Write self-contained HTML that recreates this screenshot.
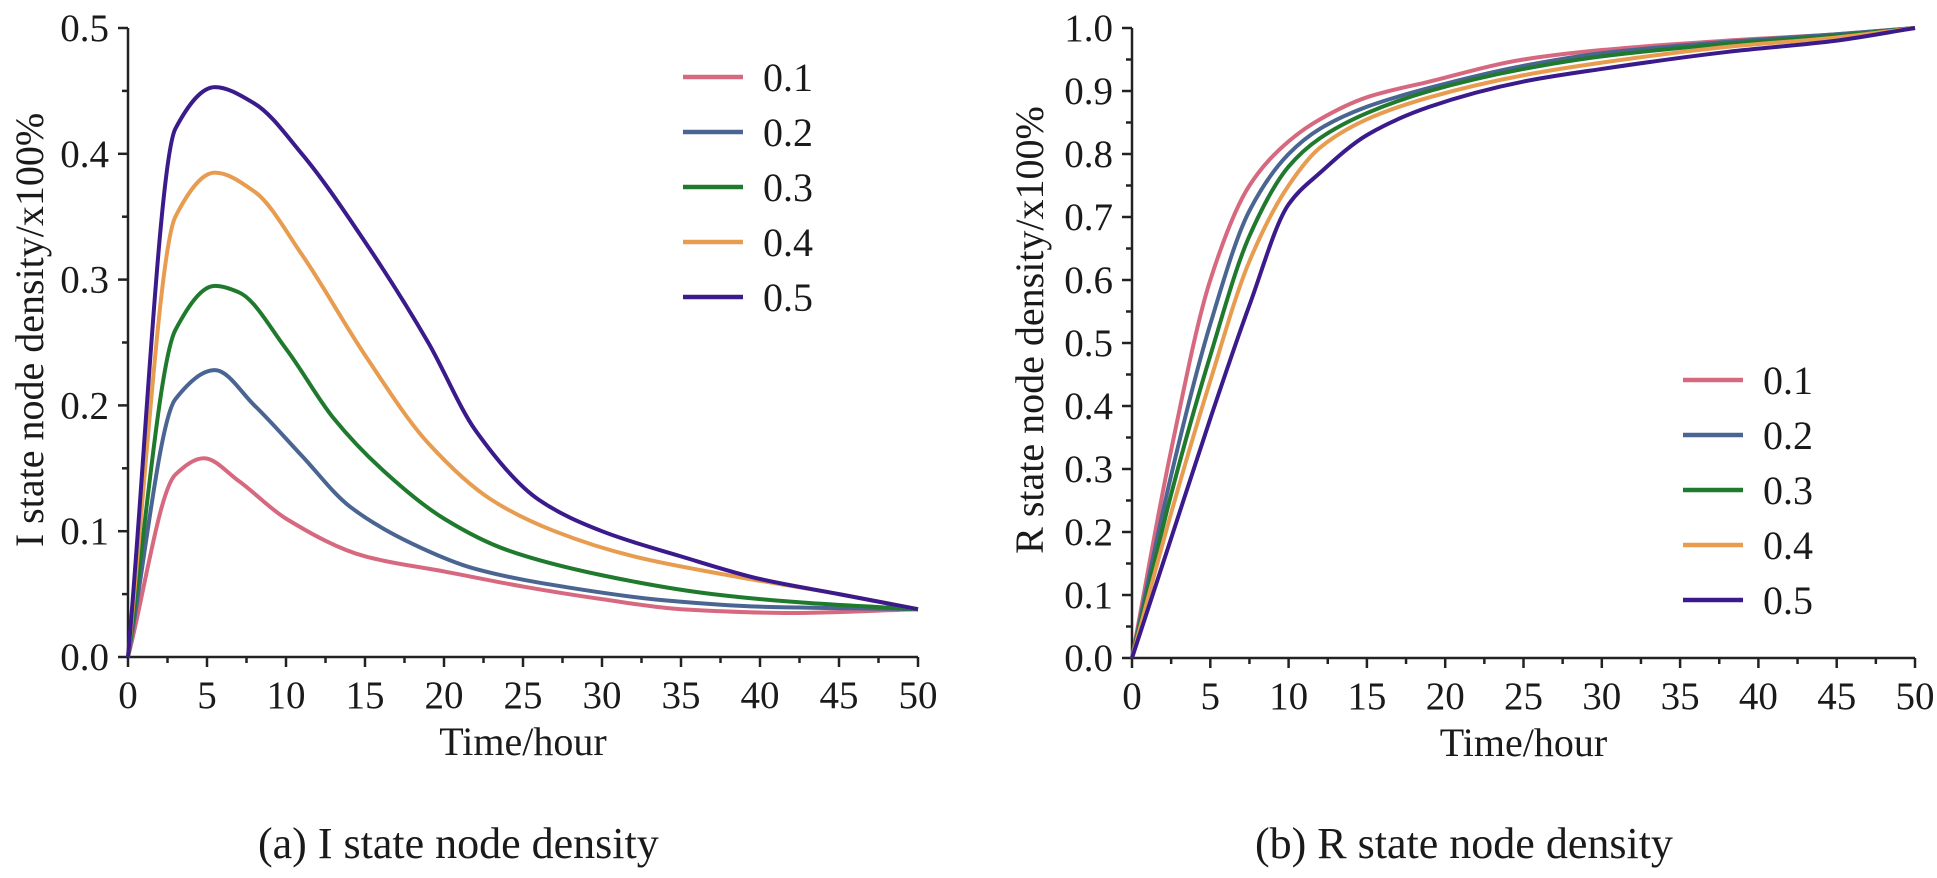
<!DOCTYPE html>
<html><head><meta charset="utf-8"><style>
body{margin:0;background:#fff}
svg text{font-family:"Liberation Serif",serif;fill:#1a1a1a}
</style></head><body>
<svg id="s" width="1937" height="873" xmlns="http://www.w3.org/2000/svg">
<text x="258" y="858" font-size="44">(a) I state node density</text>
<text x="1255" y="858" font-size="44">(b) R state node density</text>
</svg>
<script>
const seriesNames=["0.1","0.2","0.3","0.4","0.5"];
const colors=["#d6697f","#4a6592","#1f7a2e","#e89c50","#3b1a8c"];
const iT=[[0,3,4.8,7,10,15,20,25,30,35,42,50],[0,3,5.5,8,11,14,18,22,28,34,40,50],[0,3,5.5,7,10,13,16,20,24,30,37,43,50],[0,3,5.5,8,11,15,19,23,27,32,38,45,50],[0,3,5.5,8,11,15,19,22,26,30,35,40,45,50]];
const iV=[[0,0.145,0.158,0.14,0.11,0.08,0.068,0.056,0.046,0.038,0.035,0.038],[0,0.205,0.228,0.2,0.16,0.12,0.09,0.07,0.055,0.045,0.04,0.038],[0,0.26,0.295,0.29,0.245,0.19,0.15,0.11,0.085,0.065,0.05,0.043,0.038],[0,0.35,0.385,0.37,0.32,0.24,0.17,0.125,0.1,0.08,0.065,0.05,0.038],[0,0.42,0.453,0.44,0.4,0.33,0.25,0.18,0.125,0.1,0.08,0.062,0.05,0.038]];
const rT=[0,2.5,5,7.5,10,12,15,19,25,30,38,45,50];
const rV=[[0,0.33,0.6,0.75,0.82,0.855,0.89,0.915,0.95,0.965,0.98,0.99,1.0],[0,0.29,0.53,0.71,0.8,0.84,0.875,0.905,0.94,0.96,0.978,0.99,1.0],[0,0.26,0.48,0.67,0.78,0.825,0.865,0.9,0.935,0.955,0.975,0.988,1.0],[0,0.23,0.44,0.63,0.75,0.81,0.855,0.89,0.925,0.945,0.97,0.985,1.0],[0,0.19,0.38,0.56,0.72,0.77,0.83,0.875,0.915,0.935,0.962,0.98,1.0]];
const xTicks=["0","5","10","15","20","25","30","35","40","45","50"];
const iTicks=["0.0","0.1","0.2","0.3","0.4","0.5"];
const rTicks=["0.0","0.1","0.2","0.3","0.4","0.5","0.6","0.7","0.8","0.9","1.0"];
const NS="http://www.w3.org/2000/svg",svg=document.getElementById('s');
function mk(t,a,p){const e=document.createElementNS(NS,t);for(const k in a)e.setAttribute(k,a[k]);(p||svg).appendChild(e);return e;}
function mono(pts){const n=pts.length,dx=[],m=[],t=[];
 for(let i=0;i<n-1;i++){dx[i]=pts[i+1][0]-pts[i][0];m[i]=(pts[i+1][1]-pts[i][1])/dx[i];}
 t[0]=m[0];t[n-1]=m[n-2];
 for(let i=1;i<n-1;i++){if(m[i-1]*m[i]<=0)t[i]=0;else{const w1=2*dx[i]+dx[i-1],w2=dx[i]+2*dx[i-1];t[i]=(w1+w2)/(w1/m[i-1]+w2/m[i]);}}
 let d="M"+pts[0][0]+","+pts[0][1];
 for(let i=0;i<n-1;i++){const h=dx[i]/3;d+=" C"+(pts[i][0]+h)+","+(pts[i][1]+t[i]*h)+" "+(pts[i+1][0]-h)+","+(pts[i+1][1]-t[i+1]*h)+" "+pts[i+1][0]+","+pts[i+1][1];}
 return d;}
function chart(name,x0,x1,y0,y1,ymax,yt,ts,vs,title,tx,leg){
 const g=mk('g',{});
 const X=t=>x0+(x1-x0)*t/50,Y=v=>y0-(y0-y1)*v/ymax;
 mk('path',{d:`M${x0},${y1} V${y0} H${x1}`,stroke:'#222','stroke-width':2.5,fill:'none'},g);
 xTicks.forEach((l,i)=>{const x=X(+l);mk('line',{x1:x,x2:x,y1:y0,y2:y0+10,stroke:'#222','stroke-width':2.5},g);
  if(i<xTicks.length-1){const xm=X(+l+2.5);mk('line',{x1:xm,x2:xm,y1:y0,y2:y0+6,stroke:'#222','stroke-width':2.5},g);}
  const t=mk('text',{x:x,y:y0+51,'font-size':39,'text-anchor':'middle'},g);t.textContent=l;});
 const st=ymax/(yt.length-1);
 yt.forEach((l,i)=>{const y=Y(i*st);mk('line',{x1:x0-10,x2:x0,y1:y,y2:y,stroke:'#222','stroke-width':2.5},g);
  if(i<yt.length-1){const ym=Y(i*st+st/2);mk('line',{x1:x0-6,x2:x0,y1:ym,y2:ym,stroke:'#222','stroke-width':2.5},g);}
  const t=mk('text',{x:x0-19,y:y+13,'font-size':39,'text-anchor':'end'},g);t.textContent=l;});
 const xt=mk('text',{x:(x0+x1)/2,y:y0+98,'font-size':40,'text-anchor':'middle'},g);xt.textContent='Time/hour';
 
 const yc=330,ytt=mk('text',{x:tx,y:yc,'font-size':40,'text-anchor':'middle',transform:`rotate(-90 ${tx} ${yc})`},g);ytt.textContent=title;
 
 vs.forEach((vals,k)=>{const tt=Array.isArray(ts[0])?ts[k]:ts;const pts=vals.map((v,i)=>[X(tt[i]),Y(v)]);
  const p=mk('path',{d:mono(pts),stroke:colors[k],'stroke-width':4,fill:'none','stroke-linejoin':'round'},g);
  });
 seriesNames.forEach((n,k)=>{const ly=leg[1]+k*55;
  const l=mk('line',{x1:leg[0],x2:leg[0]+60,y1:ly,y2:ly,stroke:colors[k],'stroke-width':4.5},g);
  
  const t=mk('text',{x:leg[0]+80,y:ly+14,'font-size':40},g);t.textContent=n;
  });
}
chart('chart-i-state',128,918,657,28,0.5,iTicks,iT,iV,'I state node density/x100%',43,[683,77]);
chart('chart-r-state',1132,1915,658,28,1.0,rTicks,rT,rV,'R state node density/x100%',1043,[1683,380]);
</script>
</body></html>
